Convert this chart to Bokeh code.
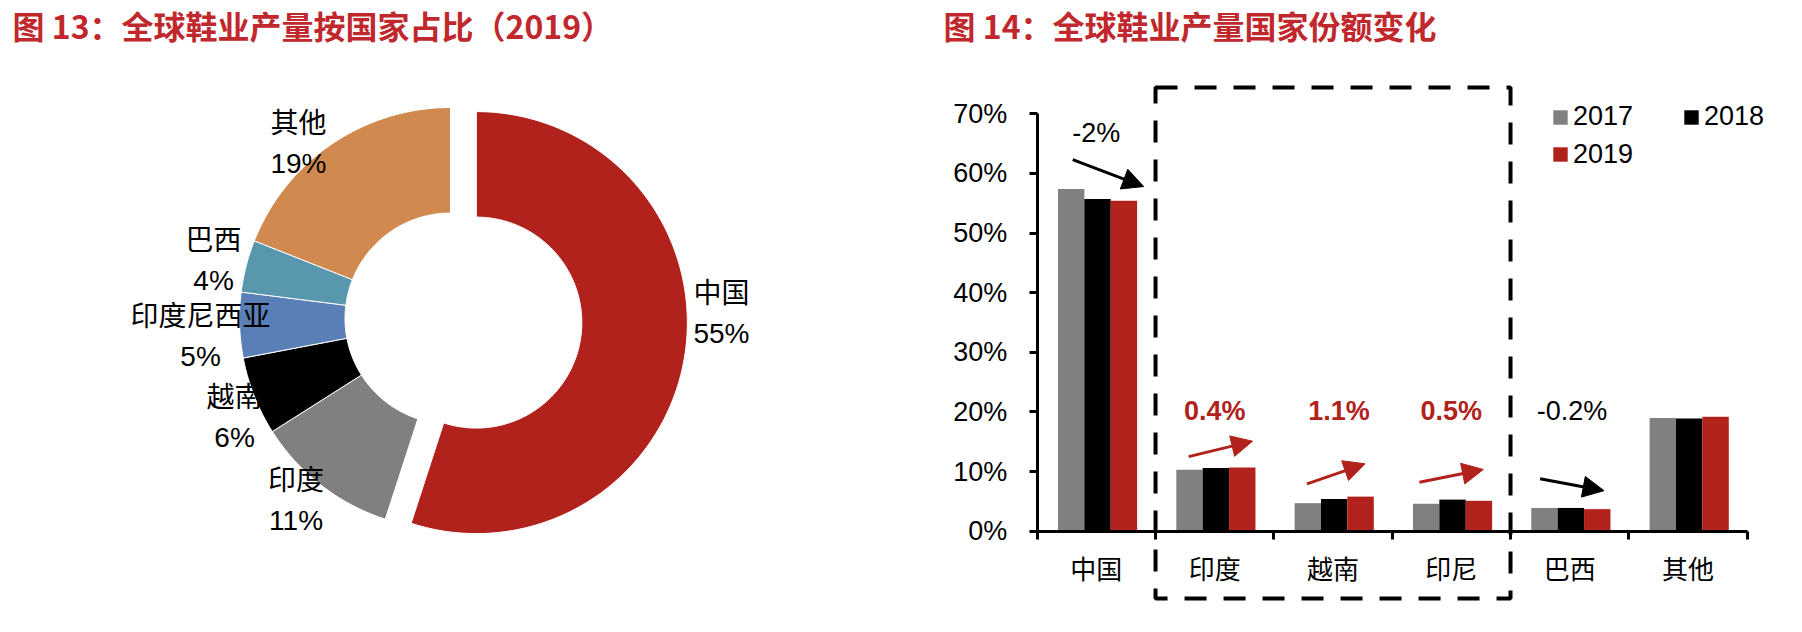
import numpy as np
from bokeh.plotting import figure
from bokeh.layouts import row
from bokeh.models import (Range1d, ColumnDataSource, Label, Arrow, NormalHead, FixedTicker,
                          Legend, LegendItem, PolyAnnotation)
from bokeh.core.properties import value
from bokeh.embed import file_html
from bokeh.resources import INLINE

# ---------------- data ----------------
pie_title = "图 13：全球鞋业产量按国家占比（2019）"
pie_names = ["中国", "印度", "越南", "印度尼西亚", "巴西", "其他"]
pie_values = [55, 11, 6, 5, 4, 19]

bar_title = "图 14：全球鞋业产量国家份额变化"
bar_categories = ["中国", "印度", "越南", "印尼", "巴西", "其他"]
years = ["2017", "2018", "2019"]
share_2017 = [57.4, 10.3, 4.7, 4.6, 3.9, 19.0]
share_2018 = [55.7, 10.6, 5.4, 5.3, 3.9, 18.9]
share_2019 = [55.4, 10.7, 5.8, 5.1, 3.7, 19.2]
y_ticks = [0, 10, 20, 30, 40, 50, 60, 70]
y_tick_labels = ["0%", "10%", "20%", "30%", "40%", "50%", "60%", "70%"]
change_categories = ["中国", "印度", "越南", "印尼", "巴西"]
change_labels = ["-2%", "0.4%", "1.1%", "0.5%", "-0.2%"]
boxed_categories = ["印度", "越南", "印尼"]

# ---------------- styles / layout ----------------
FONT = "Liberation Sans, Noto Sans CJK SC"
TITLE_FONT = "Noto Sans CJK SC"
TITLE_RED = "#C0282D"
RED = "#B0221B"
pie_colors = [RED, "#808080", "#000000", "#5A7EB6", "#5897AD", "#D0894E"]
bar_colors = ["#808080", "#000000", RED]
FIG_H = 630
TITLE_TOP = 1.5          # px from page top (text_baseline="top")

# pie geometry (data units = outer radius)
P1_W = 908
PIE_PX = 211.0           # pixels per unit radius
PIE_CX, PIE_CY = 450.0, 318.0   # pie centre (px from left/top)
pie_explode = [0.124, 0, 0, 0, 0, 0]
pie_hole = 0.5
label_radius = 1.15
label_nudge_x = [0.026, -0.027, 0.046, -0.035, -0.009, -0.074]
label_nudge_y = [0.223, 0.044, -0.044, -0.049, -0.011, -0.121]
line_gap = 0.095

# bar chart geometry
P2_W = 894
AX_X, AX_Y = 1036.7 - P1_W, 530.7    # axis origin inside figure 2 (px)
CAT_PX = 118.33
PCT_PX = 5.963
bar_w = 0.223
group_shift = 0.01
change_label_dx = [0.0, 0.0, 0.05, 0.0, 0.02]
change_label_y = [66.8, 20.1, 20.1, 20.1, 20.1]
arrow_tail_dx = [-0.20, -0.22, -0.22, -0.27, -0.25]
arrow_head_dx = [0.40, 0.32, 0.27, 0.27, 0.29]
arrow_tail_y = [62.3, 12.5, 7.95, 8.2, 8.8]
arrow_head_y = [57.8, 15.1, 11.3, 10.35, 6.8]
box_top, box_bottom = 74.4, -11.3

# ================= Figure 13: doughnut =================
p1 = figure(width=P1_W, height=FIG_H,
            x_range=Range1d(-PIE_CX / PIE_PX, (P1_W - PIE_CX) / PIE_PX),
            y_range=Range1d(-(FIG_H - PIE_CY) / PIE_PX, PIE_CY / PIE_PX),
            x_axis_type=None, y_axis_type=None, title=None,
            min_border=0, toolbar_location=None, output_backend="svg",
            outline_line_color=None)

vals = np.array(pie_values, dtype=float)
frac = vals / vals.sum()
ends = np.cumsum(frac) * 2 * np.pi
starts = ends - frac * 2 * np.pi
mids = (starts + ends) / 2

xs, ys = [], []
for a0, a1, m, e in zip(starts, ends, mids, pie_explode):
    t = np.linspace(a0, a1, max(3, int(np.degrees(a1 - a0)) + 2))
    ox, oy = e * np.sin(m), e * np.cos(m)
    px = np.concatenate([np.sin(t), pie_hole * np.sin(t[::-1])]) + ox
    py = np.concatenate([np.cos(t), pie_hole * np.cos(t[::-1])]) + oy
    xs.append(px.tolist())
    ys.append(py.tolist())

p1.patches(xs="xs", ys="ys", fill_color="color", line_color="white", line_width=1,
           source=ColumnDataSource(dict(xs=xs, ys=ys, color=pie_colors)))

ax = (label_radius + np.array(pie_explode)) * np.sin(mids) + np.array(label_nudge_x)
ay = (label_radius + np.array(pie_explode)) * np.cos(mids) + np.array(label_nudge_y)
lab_src = ColumnDataSource(dict(
    x=list(ax) + list(ax),
    y=list(ay + line_gap) + list(ay - line_gap),
    t=pie_names + [f"{v}%" for v in pie_values]))
p1.text(x="x", y="y", text="t", source=lab_src, text_font=value(FONT),
        text_font_size=value("28px"), text_align="center", text_baseline="middle",
        text_color="black")

p1.add_layout(Label(x=(12.0 - PIE_CX) / PIE_PX, y=(PIE_CY - TITLE_TOP) / PIE_PX, text=pie_title,
                    text_font=TITLE_FONT, text_font_size="32px", text_font_style="bold",
                    text_color=TITLE_RED, text_align="left", text_baseline="top"))

# ================= Figure 14: grouped bars =================
n = len(bar_categories)
p2 = figure(width=P2_W, height=FIG_H,
            x_range=Range1d(-AX_X / CAT_PX, (P2_W - AX_X) / CAT_PX),
            y_range=Range1d(-(FIG_H - AX_Y) / PCT_PX, AX_Y / PCT_PX),
            min_border=0, title=None,
            toolbar_location=None, output_backend="svg", outline_line_color=None)
p2.xgrid.visible = False
p2.ygrid.visible = False

centers = np.arange(n) + 0.5
offsets = [-bar_w, 0.0, bar_w]
renderers = []
for series, off, col in zip([share_2017, share_2018, share_2019], offsets, bar_colors):
    src = ColumnDataSource(dict(x=(centers + off + group_shift).tolist(), top=series))
    r = p2.vbar(x="x", top="top", bottom=0, width=bar_w, source=src,
                fill_color=col, line_color=None)
    renderers.append(r)

xa = p2.xaxis[0]
xa.fixed_location = 0
xa.ticker = FixedTicker(ticks=centers.tolist(), minor_ticks=list(range(n + 1)))
xa.major_label_overrides = {float(c): name for c, name in zip(centers, bar_categories)}
xa.bounds = (0, n)
xa.axis_line_width = 3
xa.axis_line_color = "black"
xa.major_tick_line_color = None
xa.major_tick_out = 0
xa.major_tick_in = 0
xa.minor_tick_line_color = "black"
xa.minor_tick_line_width = 3
xa.minor_tick_out = 8
xa.minor_tick_in = 0
xa.major_label_standoff = 16
xa.major_label_text_font = FONT
xa.major_label_text_font_size = "26px"
xa.major_label_text_color = "black"

ya = p2.yaxis[0]
ya.fixed_location = 0
ya.ticker = FixedTicker(ticks=y_ticks)
ya.major_label_overrides = {t: s for t, s in zip(y_ticks, y_tick_labels)}
ya.bounds = (y_ticks[0], y_ticks[-1])
ya.axis_line_width = 3
ya.axis_line_color = "black"
ya.major_tick_line_width = 3
ya.major_tick_line_color = "black"
ya.major_tick_out = 8
ya.major_tick_in = 0
ya.minor_tick_line_color = None
ya.major_label_standoff = 22
ya.major_label_text_font = FONT
ya.major_label_text_font_size = "27px"
ya.major_label_text_color = "black"

# dashed highlight box
bi = [bar_categories.index(c) for c in boxed_categories]
bl, br = min(bi), max(bi) + 1
p2.add_layout(PolyAnnotation(xs=[bl, br, br, bl], ys=[box_top, box_top, box_bottom, box_bottom],
                             xs_units="data", ys_units="data",
                             fill_color=None, fill_alpha=0, line_color="black", line_alpha=1.0,
                             line_width=4, line_dash="22 17"))

# change labels and arrows
ci = [bar_categories.index(c) for c in change_categories]
is_up = [not s.startswith("-") for s in change_labels]
ch_colors = [RED if u else "black" for u in is_up]
ch_src = ColumnDataSource(dict(
    x=(centers[ci] + np.array(change_label_dx)).tolist(), y=change_label_y,
    t=change_labels, c=ch_colors, s=["bold" if u else "normal" for u in is_up]))
p2.text(x="x", y="y", text="t", source=ch_src, text_color="c", text_font_style="s",
        text_font=value(FONT), text_font_size=value("27px"),
        text_align="center", text_baseline="middle")

for k, i in enumerate(ci):
    c = ch_colors[k]
    p2.add_layout(Arrow(end=NormalHead(size=21, fill_color=c, line_color=c),
                        x_start=centers[i] + arrow_tail_dx[k], y_start=arrow_tail_y[k],
                        x_end=centers[i] + arrow_head_dx[k], y_end=arrow_head_y[k],
                        line_color=c, line_width=3))

# legend (two rows: 2017, 2018 / 2019)
leg_common = dict(orientation="horizontal", background_fill_alpha=0, border_line_alpha=0,
                  padding=0, margin=0, spacing=49, label_standoff=4,
                  glyph_width=18, glyph_height=18,
                  label_text_font=FONT, label_text_font_size="27px", label_text_color="black")
leg1 = Legend(items=[LegendItem(label=value(years[0]), renderers=[renderers[0]]),
                     LegendItem(label=value(years[1]), renderers=[renderers[1]])],
              location=(1550.9 - P1_W, FIG_H - 132), **leg_common)
leg2 = Legend(items=[LegendItem(label=value(years[2]), renderers=[renderers[2]])],
              location=(1550.9 - P1_W, FIG_H - 169.7), **leg_common)
p2.add_layout(leg1)
p2.add_layout(leg2)

p2.add_layout(Label(x=(943 - P1_W - AX_X) / CAT_PX, y=(AX_Y - TITLE_TOP) / PCT_PX, text=bar_title,
                    text_font=TITLE_FONT, text_font_size="32px", text_font_style="bold",
                    text_color=TITLE_RED, text_align="left", text_baseline="top"))

layout = row(p1, p2)
open("out.html", "w").write(file_html(layout, INLINE))
